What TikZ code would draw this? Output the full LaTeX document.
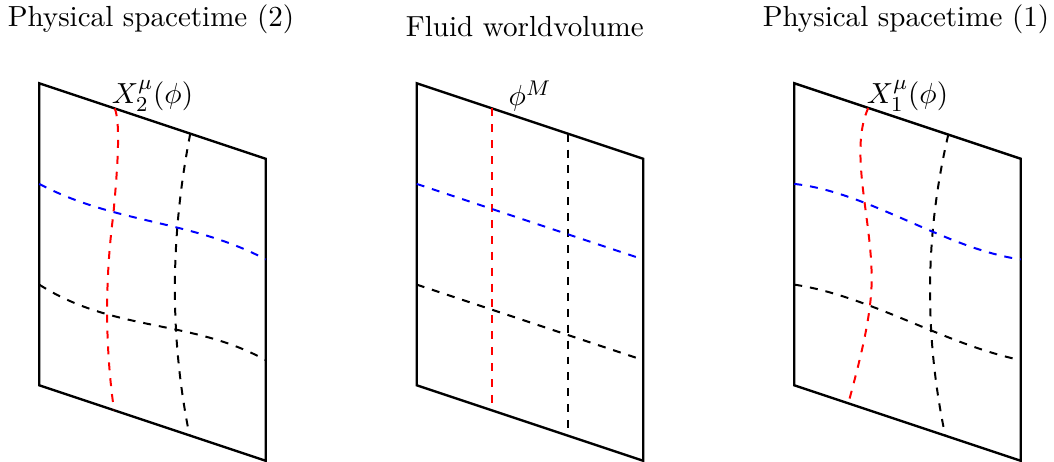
\documentclass[tikz,border=0pt]{standalone}
\begin{document}
\begin{tikzpicture}[
  font=\fontsize{10.95}{13.6}\selectfont,
  frame/.style={line width=0.9pt, line join=miter},
  gridline/.style={dashed, line width=0.75pt},
  title/.style={anchor=base, inner sep=0pt},
  lab/.style={above}
]
\useasboundingbox (-0.52,-0.016) rectangle (13.44,6.103);

% ---------- Panel: Physical spacetime (2) ----------
\begin{scope}
  \coordinate (Abl) at (0,1); \coordinate (Abr) at (3,0);
  \coordinate (Atr) at (3,4); \coordinate (Atl) at (0,5);
  \draw[frame] (Abl) -- (Abr) -- (Atr) -- (Atl) -- cycle;
  \node[title] (tA) at (1.48,5.749) {Physical spacetime (2)};
  \node[lab] (lA) at (1.5,4.5) {$X_2^\mu(\phi)$};
  \draw[gridline, red] (1,4.667) .. controls (1.09,4.45) and (1.02,3.7) .. (0.981,3.26)
                                 .. controls (0.87,2.4) and (0.87,1.53) .. (0.99,0.67);
  \draw[gridline] (2,4.333) .. controls (1.74,3.0) and (1.72,1.67) .. (1.99,0.337);
  \draw[gridline, blue] (0,3.667) .. controls (1,3.137) and (2,3.197) .. (3,2.667);
  \draw[gridline] (0,2.333) .. controls (1,1.697) and (2,1.883) .. (3,1.333);
\end{scope}

% ---------- Panel: Fluid worldvolume ----------
\begin{scope}[xshift=5cm]
  \coordinate (Bbl) at (0,1); \coordinate (Bbr) at (3,0);
  \coordinate (Btr) at (3,4); \coordinate (Btl) at (0,5);
  \draw[frame] (Bbl) -- (Bbr) -- (Btr) -- (Btl) -- cycle;
  \node[title] (tB) at (1.43,5.626) {Fluid worldvolume};
  \node[lab] (lB) at (1.5,4.5) {$\phi^M$};
  \draw[gridline, red] (1,4.667) -- (1,0.667);
  \draw[gridline] (2,4.333) -- (2,0.333);
  \draw[gridline, blue] (0,3.667) -- (3,2.667);
  \draw[gridline] (0,2.333) -- (3,1.333);
\end{scope}

% ---------- Panel: Physical spacetime (1) ----------
\begin{scope}[xshift=10cm]
  \coordinate (Cbl) at (0,1); \coordinate (Cbr) at (3,0);
  \coordinate (Ctr) at (3,4); \coordinate (Ctl) at (0,5);
  \draw[frame] (Cbl) -- (Cbr) -- (Ctr) -- (Ctl) -- cycle;
  \node[title] (tC) at (1.48,5.749) {Physical spacetime (1)};
  \node[lab] (lC) at (1.5,4.5) {$X_1^\mu(\phi)$};
  \draw[gridline, red] (0.98,4.673) .. controls (0.72,4.1) and (1.03,3.2) .. (1.025,2.40)
                                    .. controls (1.025,1.9) and (0.85,1.261) .. (0.716,0.761);
  \draw[gridline] (2.04,4.32) .. controls (1.73,3.0) and (1.72,1.66) .. (2.0,0.333);
  \draw[gridline, blue] (0,3.667) .. controls (1,3.557) and (2,2.807) .. (3,2.667);
  \draw[gridline] (0,2.333) .. controls (1,2.185) and (2,1.539) .. (3,1.333);
\end{scope}
\end{tikzpicture}
\end{document}
